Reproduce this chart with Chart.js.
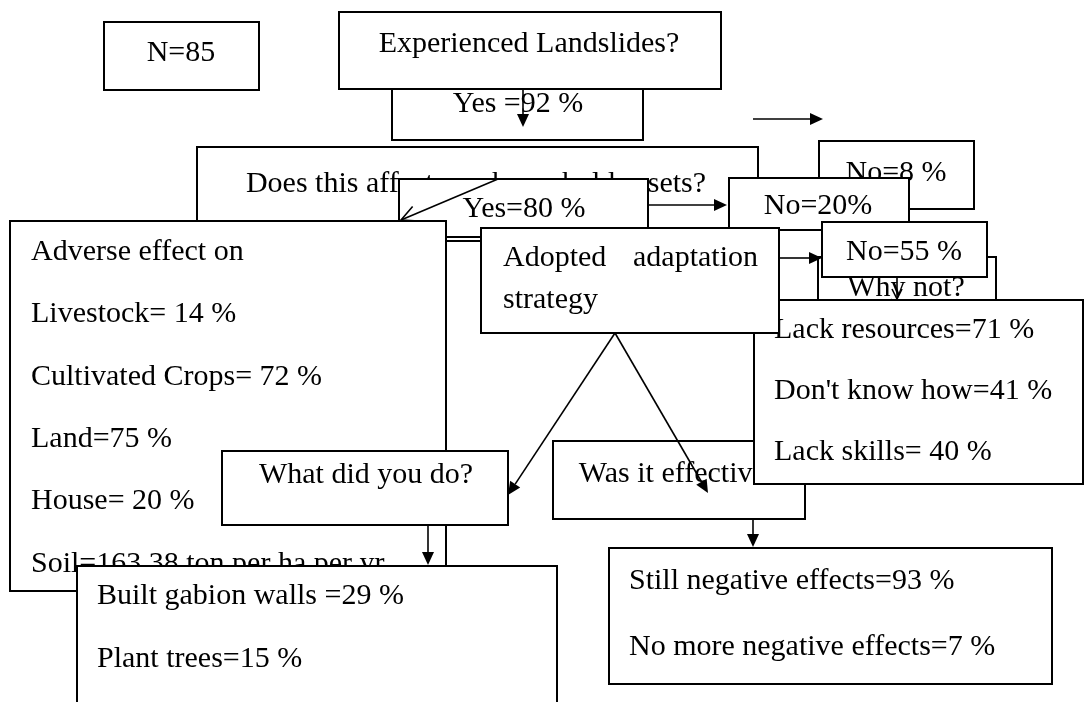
<!DOCTYPE html>
<html>
<head>
<meta charset="utf-8">
<script src="https://cdn.jsdelivr.net/npm/chart.js@4/dist/chart.umd.min.js"></script>
<style>
  html, body { margin: 0; padding: 0; background: #fff; }
  #wrap { width: 1084px; height: 702px; }
</style>
</head>
<body>
<div id="wrap"><canvas id="flow"></canvas></div>
<script>
// texts of the flow chart
var sampleSize = ['N=85'];
var questions = ['Experienced Landslides?', 'Does this affect any household assets?', 'Why not?', 'What did you do?', 'Was it effective?'];
var answers = ['Yes =92 %', 'No=8 %', 'Yes=80 %', 'No=20%', 'No=55 %'];
var adverseLines = ['Adverse effect on', 'Livestock= 14 %', 'Cultivated Crops= 72 %', 'Land=75 %', 'House= 20 %', 'Soil=163.38 ton per ha per yr'];
var adoptedWords = ['Adopted', 'adaptation', 'strategy'];
var reasonLines = ['Lack resources=71 %', "Don't know how=41 %", 'Lack skills= 40 %'];
var actionLines = ['Built gabion walls =29 %', 'Plant trees=15 %'];
var effectLines = ['Still negative effects=93 %', 'No more negative effects=7 %'];

// layout in chart units (x 0..1084, y 0..702 top-down), drawn in this order
var layout = [
  { box: [104, 22, 259, 90], lines: sampleSize, at: [181, 53], align: 'center' },
  { box: [392, 60, 643, 140], lines: [answers[0]], at: [518, 104], align: 'center' },
  { box: [339, 12, 721, 89], lines: [questions[0]], at: [529, 44], align: 'center' },
  { arrow: [523, 90, 523, 127] },
  { arrow: [753, 119, 823, 119] },
  { box: [197, 147, 758, 241], lines: [questions[1]], at: [476, 184], align: 'center' },
  { box: [819, 141, 974, 209], lines: [answers[1]], at: [896, 173], align: 'center' },
  { box: [399, 179, 648, 237], lines: [answers[2]], at: [524, 209], align: 'center' },
  { box: [729, 178, 909, 230], lines: [answers[3]], at: [818, 206], align: 'center' },
  { arrow: [498, 179, 401, 220], head: 'open' },
  { arrow: [648, 205, 727, 205] },
  { box: [10, 221, 446, 591], lines: adverseLines, at: [31, 252], step: 62.4, align: 'left' },
  { box: [818, 257, 996, 312], lines: [questions[2]], at: [906, 288], align: 'center' },
  { box: [822, 222, 987, 277], lines: [answers[4]], at: [904, 252], align: 'center' },
  { arrow: [897, 277, 897, 299], head: 'open', thin: true },
  { box: [553, 441, 805, 519], lines: [questions[4]], at: [679, 474], align: 'center' },
  { box: [754, 300, 1083, 484], lines: reasonLines, at: [774, 330], step: 61, align: 'left' },
  { box: [481, 228, 779, 333], justify: adoptedWords, at: [503, 758, 258, 300] },
  { arrow: [779, 258, 822, 258] },
  { box: [222, 451, 508, 525], lines: [questions[3]], at: [366, 475], align: 'center' },
  { arrow: [615, 333, 508, 495] },
  { arrow: [615, 333, 708, 493] },
  { arrow: [428, 525, 428, 565] },
  { box: [77, 566, 557, 730], lines: actionLines, at: [97, 596], step: 63, align: 'left' },
  { box: [609, 548, 1052, 684], lines: effectLines, at: [629, 581], step: 66, align: 'left' },
  { arrow: [753, 519, 753, 547] }
];

var FONT = '30px "Liberation Serif", "Times New Roman", serif';

var flowPlugin = {
  id: 'flowPlugin',
  afterDraw: function (chart) {
    var ctx = chart.ctx;
    var sx = chart.scales.x, sy = chart.scales.y;
    function X(v) { return sx.getPixelForValue(v); }
    function Y(v) { return sy.getPixelForValue(v); }

    ctx.save();
    ctx.font = FONT;
    ctx.textBaseline = 'middle';
    ctx.lineJoin = 'miter';

    layout.forEach(function (it) {
      if (it.box) {
        var b = it.box;
        var x0 = X(b[0]), y0 = Y(b[1]), x1 = X(b[2]), y1 = Y(b[3]);
        ctx.fillStyle = '#ffffff';
        ctx.fillRect(x0, y0, x1 - x0, y1 - y0);
        ctx.strokeStyle = '#000000';
        ctx.lineWidth = 2;
        ctx.strokeRect(x0, y0, x1 - x0, y1 - y0);
        ctx.fillStyle = '#000000';
        if (it.lines) {
          ctx.textAlign = it.align;
          it.lines.forEach(function (t, i) {
            ctx.fillText(t, X(it.at[0]), Y(it.at[1] + i * (it.step || 0)));
          });
        }
        if (it.justify) {
          ctx.textAlign = 'left';
          ctx.fillText(it.justify[0], X(it.at[0]), Y(it.at[2]));
          ctx.textAlign = 'right';
          ctx.fillText(it.justify[1], X(it.at[1]), Y(it.at[2]));
          ctx.textAlign = 'left';
          ctx.fillText(it.justify[2], X(it.at[0]), Y(it.at[3]));
        }
      }
      if (it.arrow) {
        var a = it.arrow;
        var ax = X(a[0]), ay = Y(a[1]), bx = X(a[2]), by = Y(a[3]);
        var ang = Math.atan2(by - ay, bx - ax);
        var open = it.head === 'open';
        var len = it.thin ? 10 : (open ? 16 : 13), half = it.thin ? 5 : (open ? 8 : 6);
        ctx.strokeStyle = '#000';
        ctx.fillStyle = '#000';
        ctx.lineWidth = 1.6;
        ctx.beginPath();
        ctx.moveTo(ax, ay);
        if (open) {
          ctx.lineTo(bx, by);
          ctx.stroke();
          ctx.beginPath();
          ctx.moveTo(bx - len * Math.cos(ang) + half * Math.sin(ang), by - len * Math.sin(ang) - half * Math.cos(ang));
          ctx.lineTo(bx, by);
          ctx.lineTo(bx - len * Math.cos(ang) - half * Math.sin(ang), by - len * Math.sin(ang) + half * Math.cos(ang));
          ctx.stroke();
        } else {
          ctx.lineTo(bx - len * Math.cos(ang), by - len * Math.sin(ang));
          ctx.stroke();
          ctx.beginPath();
          ctx.moveTo(bx, by);
          ctx.lineTo(bx - len * Math.cos(ang) + half * Math.sin(ang), by - len * Math.sin(ang) - half * Math.cos(ang));
          ctx.lineTo(bx - len * Math.cos(ang) - half * Math.sin(ang), by - len * Math.sin(ang) + half * Math.cos(ang));
          ctx.closePath();
          ctx.fill();
        }
      }
    });
    ctx.restore();
  }
};

new Chart(document.getElementById('flow'), {
  type: 'scatter',
  data: { datasets: [{ data: [], pointRadius: 0 }] },
  options: {
    responsive: true,
    maintainAspectRatio: false,
    animation: false,
    layout: { padding: 0 },
    scales: {
      x: { type: 'linear', min: 0, max: 1084, display: false },
      y: { type: 'linear', min: 0, max: 702, reverse: true, display: false }
    },
    plugins: {
      legend: { display: false },
      tooltip: { enabled: false }
    }
  },
  plugins: [flowPlugin]
});
</script>
</body>
</html>
